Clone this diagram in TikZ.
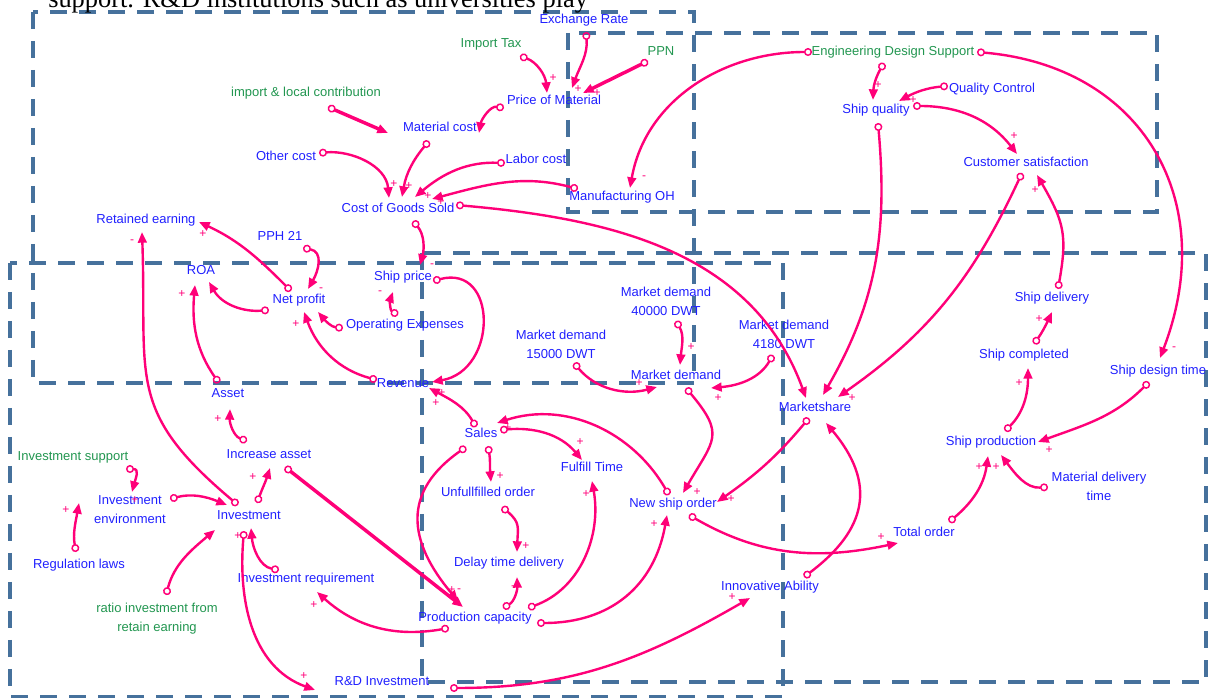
\documentclass[tikz,border=0pt]{standalone}
\usepackage{fontspec}
\newfontfamily\lsans{Liberation Sans}
\newfontfamily\lserif{Liberation Serif}
\usetikzlibrary{arrows.meta,calc}
\definecolor{vblue}{RGB}{32,32,255}
\definecolor{vgreen}{RGB}{34,150,80}
\definecolor{vpink}{RGB}{255,0,120}
\definecolor{vbox}{RGB}{70,113,156}
\tikzset{
  lab/.style={font=\lsans\fontsize{9.75}{14.25}\selectfont, text=vblue, inner sep=0pt, text height=7pt, text depth=2pt},
  lab2/.style={font=\lsans\fontsize{9.75}{14.25}\selectfont, text=vblue, inner sep=0pt, align=center},
  grn/.style={text=vgreen},
  pol/.style={font=\lsans\fontsize{9}{9}\selectfont, text=vpink, inner sep=0pt},
  lk/.style={draw=vpink, line width=1.8pt, {Circle[open,length=6pt,width=6pt,line width=1.1pt]}-{Triangle[length=8pt,width=6.5pt]}},
  lkb/.style={lk, line width=2.6pt},
  zone/.style={draw=vbox, line width=3pt, dash pattern=on 12.75pt off 9pt},
}
\begin{document}
\begin{tikzpicture}[x=0.75pt,y=-0.75pt]
\useasboundingbox (0,0) rectangle (1208,698);
% zones
\draw[zone] (33,12) rectangle (694,383);
\draw[zone] (568,33) rectangle (1157,212);
\draw[zone] (10,263) rectangle (783,697);
\draw[zone] (422,253) rectangle (1206,682);
% clipped caption
\node[anchor=base west, font=\lserif\fontsize{19.8}{22}\selectfont, inner sep=0pt] (cap) at (48,8) {support. R\&D institutions such as universities play};
% nodes
\node[lab] (exr) at (584,20) {Exchange Rate};
\node[lab,grn] (itax) at (491,44) {Import Tax};
\node[lab,grn] (ppn) at (661,52) {PPN};
\node[lab] (pom) at (554,101) {Price of Material};
\node[lab,grn] (ilc) at (306,93) {import \& local contribution};
\node[lab] (mc) at (440,128) {Material cost};
\node[lab] (oc) at (286,157) {Other cost};
\node[lab] (lc) at (536,160) {Labor cost};
\node[lab] (cogs) at (398,209) {Cost of Goods Sold};
\node[lab] (moh) at (622,197) {Manufacturing OH};
\node[lab] (re) at (146,220) {Retained earning};
\node[lab] (pph) at (280,237) {PPH 21};
\node[lab] (roa) at (201,271) {ROA};
\node[lab] (np) at (299,300) {Net profit};
\node[lab] (sp) at (403,277) {Ship price};
\node[lab] (ox) at (405,325) {Operating Expenses};
\node[lab] (rev) at (403,384) {Revenue};
\node[lab] (asset) at (228,394) {Asset};
\node[lab] (ia) at (269,455) {Increase asset};
\node[lab,grn] (isup) at (73,457) {Investment support};
\node[lab2] (ienv) at (130,510) {Investment\\environment};
\node[lab] (inv) at (249,516) {Investment};
\node[lab] (reg) at (79,565) {Regulation laws};
\node[lab2,grn] (ratio) at (157,619) {ratio investment from\\retain earning};
\node[lab] (ireq) at (306,579) {Investment requirement};
\node[lab] (rd) at (382,682) {R\&D Investment};
\node[lab2] (md40) at (666,301) {Market demand\\40000 DWT};
\node[lab2] (md15) at (561,344) {Market demand\\15000 DWT};
\node[lab2] (md41) at (784,334) {Market demand\\4180 DWT};
\node[lab] (md) at (676,376) {Market demand};
\node[lab] (ms) at (815,408) {Marketshare};
\node[lab] (sales) at (481,434) {Sales};
\node[lab] (ft) at (592,468) {Fulfill Time};
\node[lab] (uo) at (488,493) {Unfullfilled order};
\node[lab] (nso) at (673,504) {New ship order};
\node[lab] (dtd) at (509,563) {Delay time delivery};
\node[lab] (pc) at (475,618) {Production capacity};
\node[lab] (innov) at (770,587) {Innovative Ability};
\node[lab] (tord) at (924,533) {Total order};
\node[lab,grn] (eds) at (893,52) {Engineering Design Support};
\node[lab] (sq) at (876,110) {Ship quality};
\node[lab] (qc) at (992,89) {Quality Control};
\node[lab] (cs) at (1026,163) {Customer satisfaction};
\node[lab] (sd) at (1052,298) {Ship delivery};
\node[lab] (sc) at (1024,355) {Ship completed};
\node[lab] (sdt) at (1158,371) {Ship design time};
\node[lab] (spr) at (991,442) {Ship production};
\node[lab2] (mdt) at (1099,486) {Material delivery\\time};
% links
\draw[lk] ($(exr)+(2,12)$) to[out=275,in=70] ($(pom)+(18,-13)$);
\draw[lk] ($(itax)+(29,12)$) to[out=-20,in=95] ($(pom)+(-7,-8)$);
\draw[lkb] ($(ppn)+(-13,9)$) -- ($(pom)+(29,-8)$);
\draw[lk] ($(pom)+(-50,7)$) to[out=170,in=80] ($(mc)+(39,5)$);
\draw[lkb] ($(ilc)+(22,14)$) -- ($(mc)+(-52,5)$);
\draw[lk] ($(mc)+(-11,13)$) to[out=230,in=80] ($(cogs)+(4,-12)$);
\draw[lk] ($(oc)+(33,-4)$) to[out=5,in=95] ($(cogs)+(-9,-11)$);
\draw[lk] ($(lc)+(-31,3)$) to[out=178,in=40] ($(cogs)+(17,-12)$);
\draw[lk] ($(moh)+(-44,-8)$) to[out=165,in=15] ($(cogs)+(34,-10)$);
\draw[lk] ($(cogs)+(58,-4)$) to[out=-5,in=110] ($(ms)+(-9,-10)$);
\draw[lk] ($(cogs)+(15,12)$) to[out=-50,in=75] ($(sp)+(17,-12)$);
\draw[lk] ($(ox)+(-7,-10)$) to[out=150,in=250] ($(sp)+(-10,15)$);
\draw[lk] ($(ox)+(-62,3)$) to[out=175,in=310] ($(np)+(19,12)$);
\draw[lk] ($(pph)+(23,11)$) to[out=-10,in=60,looseness=1.3] ($(np)+(9,-11)$);
\draw[lk] ($(rev)+(-26,-4)$) to[out=165,in=290] ($(np)+(5,12)$);
\draw[lk] ($(np)+(-30,10)$) to[out=185,in=300] ($(roa)+(8,11)$);
\draw[lk] ($(np)+(-8,-9)$) to[out=135,in=335] ($(re)+(53,2)$);
\draw[lk] ($(asset)+(-9,-11)$) to[out=125,in=265] ($(roa)+(-6,14)$);
\draw[lk] ($(ia)+(-22,-14)$) to[out=160,in=268] ($(asset)+(2,15)$);
\draw[lk] ($(inv)+(-11,-11)$) to[out=140,in=272,looseness=1.3] ($(re)+(-4,12)$);
\draw[lk] ($(inv)+(8,-13)$) to[out=70,in=252] ($(ia)+(1,13)$);
\draw[lkb] ($(ia)+(16,12)$) -- ($(pc)+(-12,-11)$);
\draw[lk] ($(sales)+(-15,13)$) to[out=215,in=130,looseness=1.3] ($(pc)+(-17,-17)$);
\draw[lk] ($(ienv)+(40,-11)$) to[out=15,in=158] ($(inv)+(-22,-11)$);
\draw[lk] ($(isup)+(53,12)$) to[out=0,in=75,looseness=1.5] ($(ienv)+(2,-18)$);
\draw[lk] ($(reg)+(-3,-13)$) to[out=100,in=260] ($(ienv)+(-51,-7)$);
\draw[lk] ($(ratio)+(9,-24)$) to[out=75,in=220] ($(inv)+(-34,14)$);
\draw[lk] ($(ireq)+(-27,-9)$) to[out=170,in=275] ($(inv)+(2,12)$);
\draw[lk] ($(inv)+(-5,15)$) to[out=265,in=160] ($(rd)+(-67,8)$);
\draw[lk] ($(pc)+(-26,10)$) to[out=190,in=318] ($(ireq)+(11,13)$);
\draw[lk] ($(rd)+(68,6)$) to[out=0,in=210] ($(innov)+(-20,11)$);
\draw[lk] ($(innov)+(34,-10)$) to[out=37,in=310,looseness=1.3] ($(ms)+(11,15)$);
\draw[lk] ($(sales)+(-5,-7)$) to[out=120,in=332] ($(rev)+(26,4)$);
\draw[lk] ($(sp)+(30,4)$) to[out=15,in=10,looseness=1.7] ($(rev)+(29,-2)$);
\draw[lk] ($(sales)+(19,-4)$) to[out=5,in=130] ($(ft)+(-10,-8)$);
\draw[lk] ($(nso)+(-4,-9)$) to[out=120,in=18] ($(sales)+(16,-11)$);
\draw[lk] ($(sales)+(7,12)$) to[out=-80,in=95] ($(uo)+(3,-11)$);
\draw[lk] ($(uo)+(14,14)$) to[out=-40,in=88,looseness=1.3] ($(dtd)+(8,-11)$);
\draw[lk] ($(pc)+(28,-10)$) to[out=30,in=272] ($(dtd)+(8,14)$);
\draw[lk] ($(pc)+(53,-10)$) to[out=20,in=280] ($(ft)+(0,13)$);
\draw[lk] ($(pc)+(62,5)$) to[out=0,in=260,looseness=1.1] ($(nso)+(-6,11)$);
\draw[lk] ($(md)+(10,12)$) to[out=-50,in=60,looseness=1.5] ($(nso)+(10,-11)$);
\draw[lk] ($(ms)+(-6,10)$) to[out=230,in=35] ($(nso)+(44,-2)$);
\draw[lk] ($(nso)+(16,11)$) to[out=-30,in=192] ($(tord)+(-26,10)$);
\draw[lk] ($(md15)+(13,19)$) to[out=-50,in=195] ($(md)+(-19,11)$);
\draw[lk] ($(md40)+(10,20)$) to[out=-60,in=85] ($(md)+(4,-11)$);
\draw[lk] ($(md41)+(-11,21)$) to[out=240,in=5] ($(md)+(35,12)$);
\draw[lk] ($(sq)+(2,13)$) to[out=-85,in=60] ($(ms)+(8,-13)$);
\draw[lk] ($(cs)+(-4,10)$) to[out=245,in=35] ($(ms)+(23,-11)$);
\draw[lk] ($(sd)+(6,-9)$) to[out=80,in=300,looseness=1.2] ($(cs)+(11,12)$);
\draw[lk] ($(sc)+(10,-11)$) to[out=55,in=245] ($(sd)+(0,14)$);
\draw[lk] ($(spr)+(14,-11)$) to[out=45,in=270] ($(sc)+(4,13)$);
\draw[lk] ($(sdt)+(-9,11)$) to[out=225,in=20] ($(spr)+(47,0)$);
\draw[lk] ($(eds)+(84,0)$) to[out=-5,in=69,looseness=1.2] ($(sdt)+(2,-13)$);
\draw[lk] ($(eds)+(-81,0)$) to[out=180,in=80] ($(moh)+(8,-9)$);
\draw[lk] ($(eds)+(-9,11)$) to[out=240,in=88] ($(sq)+(-3,-10)$);
\draw[lk] ($(qc)+(-44,-3)$) to[out=185,in=28] ($(sq)+(23,-9)$);
\draw[lk] ($(sq)+(37,-4)$) to[out=0,in=128] ($(cs)+(-9,-9)$);
\draw[lk] ($(tord)+(25,-11)$) to[out=40,in=262] ($(spr)+(-3,14)$);
\draw[lk] ($(mdt)+(-51,1)$) to[out=185,in=307] ($(spr)+(10,13)$);
% polarities
\foreach \x/\y/\s [count=\i] in {578/89/+,597/93/+,553/78/+,394/184/+,409/186/+,428/196/+,441/202/+,
  432/266/-,380/293/-,321/290/-,296/324/+,203/234/+,182/294/+,218/419/+,132/242/-,253/477/+,
  135/500/+,66/510/+,238/536/+,304/676/+,314/605/+,732/597/+,452/590/+,459/591/-,442/393/+,
  436/403/+,508/428/+,580/442/+,500/476/+,526/546/+,513/588/-,586/494/+,654/524/+,697/492/+,
  731/499/+,881/537/+,639/383/+,691/347/+,718/398/+,852/398/+,1035/190/+,1039/319/+,1019/383/+,
  1049/450/+,1174/349/-,644/178/-,878/85/+,913/100/+,1014/136/+,979/467/+,996/467/+}
  \node[pol] (p\i) at (\x,\y) {\s};
\end{tikzpicture}
\end{document}
